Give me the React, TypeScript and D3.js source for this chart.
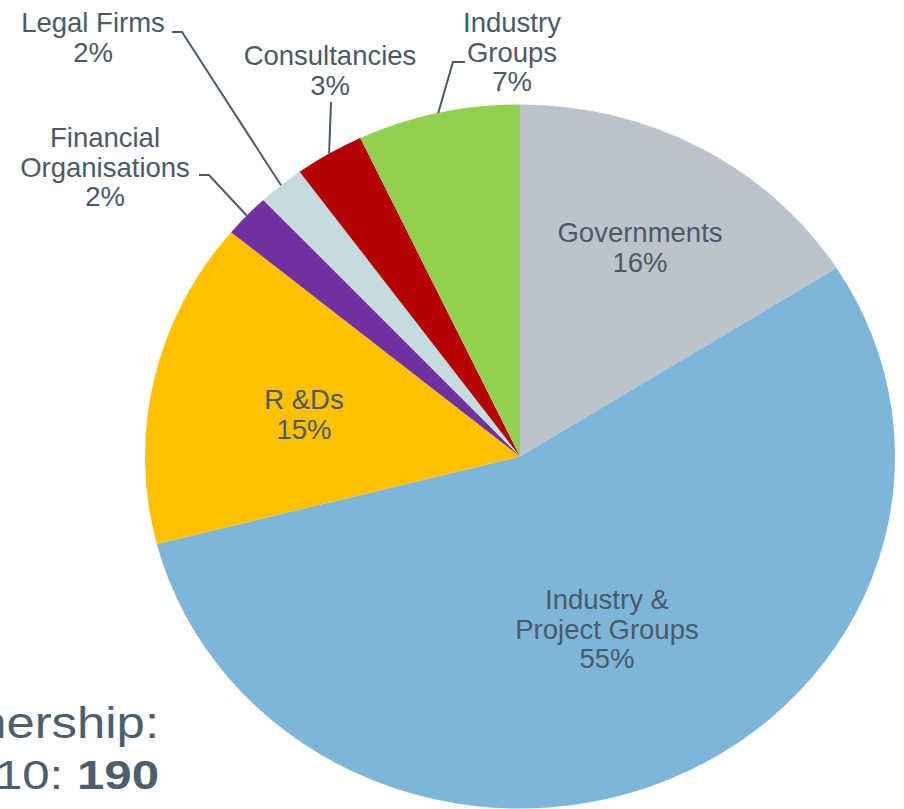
import React from "react";
import * as d3 from "d3";

// ---- data ----
const categories = [
  "Governments",
  "Industry & Project Groups",
  "R &Ds",
  "Financial Organisations",
  "Legal Firms",
  "Consultancies",
  "Industry Groups",
];
const shares = [16, 55, 15, 2, 2, 3, 7];
const labelLines = [
  ["Governments"],
  ["Industry &", "Project Groups"],
  ["R &Ds"],
  ["Financial", "Organisations"],
  ["Legal Firms"],
  ["Consultancies"],
  ["Industry", "Groups"],
];
const footerLines = ["Partnership:", "2010: "];
const footerValue = "190";

// ---- styles / layout ----
const sliceColors = ["#BAC4CA", "#7EB6DA", "#FFC000", "#7030A0", "#C5DCDF", "#B40000", "#92D050"];
const W = 904;
const H = 809;
const cx = 520;
const cy = 456.5;
const rx = 375;
const ry = 352;
const textColor = "#4A5A68";
const footerColor = "#4D5E6E";
const fontFamily = "'Liberation Sans', Arial, Helvetica, sans-serif";
const labelSize = 27.5;
const lineGap = 29.5;

// label anchor (centre x, first baseline) and leader elbow points
const labelLayout: { x: number; y: number; elbow: [number, number][] | null }[] = [
  { x: 640, y: 242, elbow: null },
  { x: 607, y: 609, elbow: null },
  { x: 304, y: 409, elbow: null },
  { x: 105, y: 147, elbow: [[199, 175], [209, 175]] },
  { x: 93, y: 32, elbow: [[172, 32], [182, 32]] },
  { x: 330, y: 65, elbow: [[331, 102]] },
  { x: 512, y: 32, elbow: [[465, 62], [453, 62]] },
];

export default function App() {
  const pie = d3
    .pie<number>()
    .sort(null)
    .value((d) => d)
    .startAngle(0)
    .endAngle(2 * Math.PI);
  const arcs = pie(shares);
  const arc = d3.arc<d3.PieArcDatum<number>>().innerRadius(0).outerRadius(ry);
  const line = d3.line();

  return (
    <svg
      width={W}
      height={H}
      style={{ position: "absolute", left: 0, top: 0, background: "#fff" }}
      fontFamily={fontFamily}
    >
      <rect width={W} height={H} fill="#ffffff" />
      <g transform={`translate(${cx},${cy}) scale(${rx / ry},1)`}>
        {arcs.map((a, i) => (
          <path key={categories[i]} d={arc(a) || ""} fill={sliceColors[i]} />
        ))}
      </g>
      {arcs.map((a, i) => {
        const lay = labelLayout[i];
        if (!lay.elbow) return null;
        const mid = (a.startAngle + a.endAngle) / 2;
        const end: [number, number] = [cx + rx * Math.sin(mid), cy - ry * Math.cos(mid)];
        const pts = [...lay.elbow, end] as [number, number][];
        return (
          <path key={"l" + i} d={line(pts) || ""} fill="none" stroke={textColor} strokeWidth={2} />
        );
      })}
      {arcs.map((a, i) => {
        const lay = labelLayout[i];
        const lines = [...labelLines[i], `${shares[i]}%`];
        return (
          <text
            key={"t" + i}
            x={lay.x}
            y={lay.y}
            textAnchor="middle"
            fontSize={labelSize}
            fill={textColor}
          >
            {lines.map((s, j) => (
              <tspan key={j} x={lay.x} y={lay.y + j * lineGap}>
                {s}
              </tspan>
            ))}
          </text>
        );
      })}
      <text
        transform="translate(159,738) scale(1.13,1)"
        textAnchor="end"
        fontSize={45}
        fill={footerColor}
      >
        {footerLines[0]}
      </text>
      <text
        transform="translate(159,789) scale(1.2,1)"
        textAnchor="end"
        fontSize={41}
        fill={footerColor}
      >
        <tspan>{footerLines[1]}</tspan>
        <tspan fontWeight="bold">{footerValue}</tspan>
      </text>
    </svg>
  );
}
